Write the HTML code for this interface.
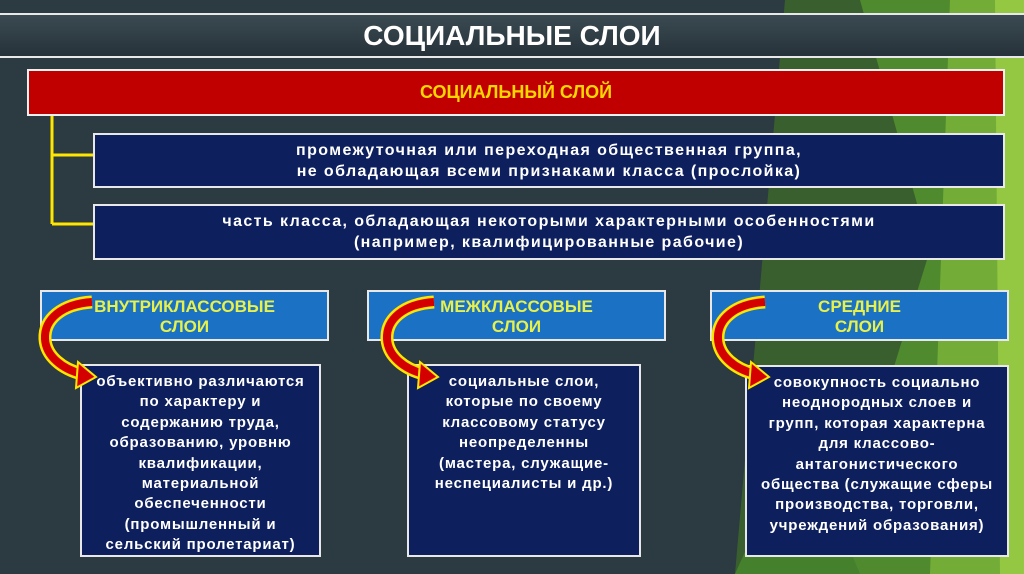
<!DOCTYPE html>
<html><head><meta charset="utf-8"><style>
body{margin:0;width:1024px;height:574px;overflow:hidden;background:#2c3a42;font-family:"Liberation Sans","DejaVu Sans",sans-serif;position:relative}
.abs{position:absolute;box-sizing:border-box}
.title{left:0;top:13px;width:1024px;height:45px;background:linear-gradient(#3b4a52,#26323a);border-top:2px solid #e8e8e8;border-bottom:2px solid #e8e8e8;color:#fff;font-weight:bold;font-size:28px;text-align:center;line-height:41px}
.red{left:27px;top:69px;width:978px;height:47px;background:#c00000;border:2px solid #f0f0f0;color:#ffd700;font-weight:bold;font-size:18px;text-align:center;line-height:43px}
.navy{background:#0e1f5e;border:2px solid #e8e8e8;color:#fff;font-weight:bold;font-size:16px;text-align:center;letter-spacing:1.4px}
.blue{background:#1b72c4;border:2px solid #e8e8e8;color:#e8f04a;font-weight:bold;font-size:17px;text-align:center;line-height:20px;padding-top:5px}
.det{background:#0e1f5e;border:2px solid #e8e8e8;color:#fff;font-weight:bold;font-size:15px;text-align:center;line-height:20.4px;padding-top:6px;letter-spacing:.8px}
</style></head><body>
<svg class="abs" style="left:0;top:0" width="1024" height="574">
<polygon points="785,0 1024,0 1024,574 735,574" fill="#3a5f2e"/>
<polygon points="860,0 1024,0 1024,574 830,574 930,250" fill="#4f8a2e"/>
<polygon points="950,0 1024,0 1024,574 930,574" fill="#73ad38"/>
<polygon points="995,0 1024,0 1024,574 1000,574" fill="#95c842"/>
<polygon points="735,574 800,430 860,574" fill="#45802c"/>
</svg>
<div class="abs title">СОЦИАЛЬНЫЕ СЛОИ</div>
<div class="abs red">СОЦИАЛЬНЫЙ СЛОЙ</div>
<svg class="abs" style="left:0;top:0" width="1024" height="574">
<path d="M52 116 V224 M52 155 H93 M52 224 H93" stroke="#ffe600" stroke-width="3" fill="none"/>
</svg>
<div class="abs navy" style="left:93px;top:133px;width:912px;height:55px;line-height:21px;padding-top:5px">промежуточная или переходная общественная группа,<br>не обладающая всеми признаками класса (прослойка)</div>
<div class="abs navy" style="left:93px;top:204px;width:912px;height:56px;line-height:21px;padding-top:5px">часть класса, обладающая некоторыми характерными особенностями<br>(например, квалифицированные рабочие)</div>
<div class="abs blue" style="left:40px;top:290px;width:289px;height:51px">ВНУТРИКЛАССОВЫЕ<br>СЛОИ</div>
<div class="abs blue" style="left:367px;top:290px;width:299px;height:51px">МЕЖКЛАССОВЫЕ<br>СЛОИ</div>
<div class="abs blue" style="left:710px;top:290px;width:299px;height:51px">СРЕДНИЕ<br>СЛОИ</div>
<div class="abs det" style="left:80px;top:364px;width:241px;height:193px">объективно различаются<br>по характеру и<br>содержанию труда,<br>образованию, уровню<br>квалификации,<br>материальной<br>обеспеченности<br>(промышленный и<br>сельский пролетариат)</div>
<div class="abs det" style="left:407px;top:364px;width:234px;height:193px">социальные слои,<br>которые по своему<br>классовому статусу<br>неопределенны<br>(мастера, служащие-<br>неспециалисты и др.)</div>
<div class="abs det" style="left:745px;top:365px;width:264px;height:192px">совокупность социально<br>неоднородных слоев и<br>групп, которая характерна<br>для классово-<br>антагонистического<br>общества (служащие сферы<br>производства, торговли,<br>учреждений образования)</div>
<svg class="abs" style="left:0;top:0" width="1024" height="574">
<defs><g id="arr">
<path d="M50 8 C20 10 2 25 3 45 C4 62 20 75 40 80" stroke="#ffe600" stroke-width="13" fill="none"/>
<path d="M50 8 C20 10 2 25 3 45 C4 62 20 75 40 80" stroke="#d40000" stroke-width="8" fill="none"/>
<polygon points="36,68 54,83 34,94" fill="#d40000" stroke="#ffe600" stroke-width="2"/>
</g></defs>
<use href="#arr" x="42" y="294"/>
<use href="#arr" x="384" y="294"/>
<use href="#arr" x="715" y="294"/>
</svg>
</body></html>
